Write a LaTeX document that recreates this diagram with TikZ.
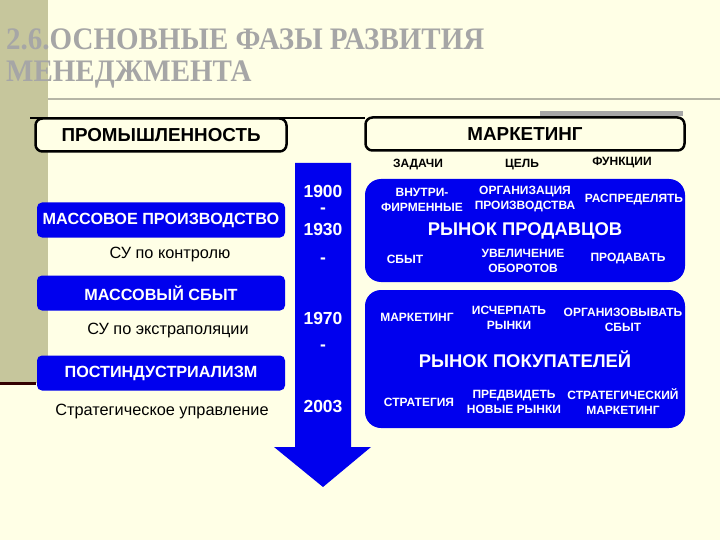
\documentclass[tikz,border=0pt]{standalone}
\usepackage{fontspec}
\setmainfont{Liberation Sans}
\newfontfamily\titlefont{Liberation Serif}
\usetikzlibrary{
    positioning,
    arrows.meta
}
\definecolor{cream}{HTML}{FFFFE6}
\definecolor{olive}{HTML}{C6C69C}
\definecolor{titlegrey}{HTML}{A6A6A6}
\definecolor{rulegrey}{HTML}{B6B6A6}
\definecolor{phaseblue}{HTML}{0000EE}
\tikzset{
    every node/.style={
        inner sep=0pt
    },
    heading/.style={
        draw=black,
        line width=2.5pt,
        rounded corners=7pt,
        fill=cream,
        minimum height=33pt,
        font=\bfseries\fontsize{18.8}{21}\selectfont
    },
    phase/.style={
        fill=phaseblue,
        rounded corners=5pt,
        minimum width=248pt,
        minimum height=35pt,
        text=white,
        font=\bfseries\fontsize{16.2}{18}\selectfont
    },
    method/.style={
        font=\fontsize{16.3}{18}\selectfont
    },
    year/.style={
        text=white,
        font=\bfseries\fontsize{17.5}{19}\selectfont
    },
    column/.style={
        font=\bfseries\fontsize{12}{14}\selectfont
    },
    market/.style={
        fill=phaseblue,
        rounded corners=16pt,
        minimum width=320pt
    },
    cell/.style={
        text=white,
        align=center,
        font=\bfseries\fontsize{12}{15}\selectfont
    },
    marketname/.style={
        text=white,
        font=\bfseries\fontsize{18.4}{20}\selectfont
    }
}

\begin{document}
\begin{tikzpicture}[
    x=1pt,
    y=-1pt
]

    % Fondo
    \useasboundingbox (0,0) rectangle (720,540);
    \fill[cream] (0,0) rectangle (720,540);
    \fill[olive] (0,0) rectangle (48,383);
    \fill[black!80!red] (0,382) rectangle (36,385);
    \draw[rulegrey, line width=2pt] (48,99) -- (720,99);

    % Titulo
    \node[anchor=base west, text=titlegrey, font=\titlefont\bfseries\fontsize{29}{32}\selectfont]
        (title1) at (6,50) {\scalebox{1}[1.08]{2.6.ОСНОВНЫЕ ФАЗЫ РАЗВИТИЯ}};
    \node[anchor=base west, text=titlegrey, font=\titlefont\bfseries\fontsize{29}{32}\selectfont]
        (title2) at (6,82) {\scalebox{1}[1.08]{МЕНЕДЖМЕНТА}};

    % Cabeceras
    \fill[titlegrey] (540,111) rectangle (683,116);
    \draw[line width=2pt] (30,118) -- (365,118);
    \node[heading, minimum width=251pt] (industry) at (161,135) {ПРОМЫШЛЕННОСТЬ};
    \node[heading, minimum width=319pt] (marketing) at (525,134) {МАРКЕТИНГ};

    % Fases
    \node[phase] (massprod)  at (161,220) {МАССОВОЕ ПРОИЗВОДСТВО};
    \node[method] (control)  at (170,255) {СУ по контролю};
    \node[phase] (masssale)  at (161,293) {МАССОВЫЙ СБЫТ};
    \node[method] (extrapol) at (168,330) {СУ по экстраполяции};
    \node[phase] (postind)   at (161,373) {ПОСТИНДУСТРИАЛИЗМ};
    \node[method] (strategic) at (162,411) {Стратегическое управление};

    % Flecha del tiempo
    \fill[phaseblue] (295,163) -- (351,163) -- (351,447) -- (371,447)
        -- (323,487) -- (274,447) -- (295,447) -- cycle;
    \node[year] (y1900) at (323,191) {1900};
    \node[year] (d1)    at (323,211) {-};
    \node[year] (y1930) at (323,229) {1930};
    \node[year] (d2)    at (323,261) {-};
    \node[year] (y1970) at (323,318) {1970};
    \node[year] (d3)    at (323,348) {-};
    \node[year] (y2003) at (323,406) {2003};

    % Columnas
    \node[column] (tasks)     at (418,165) {ЗАДАЧИ};
    \node[column] (goal)      at (522,165) {ЦЕЛЬ};
    \node[column] (functions) at (622,163) {ФУНКЦИИ};

    % Рынок продавцов
    \node[market, minimum height=103pt] (sellers) at (525,230.5) {};
    \node[cell] (inner)    at (422,199.5) {ВНУТРИ-\\ФИРМЕННЫЕ};
    \node[cell] (organize) at (525,199.5) {ОРГАНИЗАЦИЯ\\ПРОИЗВОДСТВА};
    \node[cell] (distrib)  at (634,200)   {РАСПРЕДЕЛЯТЬ};
    \node[marketname] (sellname) at (525,231) {РЫНОК ПРОДАВЦОВ};
    \node[cell] (sales)    at (405,259)   {СБЫТ};
    \node[cell] (turnover) at (523,260.5) {УВЕЛИЧЕНИЕ\\ОБОРОТОВ};
    \node[cell] (sell)     at (628,259)   {ПРОДАВАТЬ};

    % Рынок покупателей
    \node[market, minimum height=138pt] (buyers) at (525,359) {};
    \node[cell] (mkt)      at (417,317)   {МАРКЕТИНГ};
    \node[cell] (exhaust)  at (509,317.5) {ИСЧЕРПАТЬ\\РЫНКИ};
    \node[cell] (orgsale)  at (623,319.5) {ОРГАНИЗОВЫВАТЬ\\СБЫТ};
    \node[marketname] (buyname) at (525,359) {РЫНОК ПОКУПАТЕЛЕЙ};
    \node[cell] (strategy) at (419,402)   {СТРАТЕГИЯ};
    \node[cell] (foresee)  at (514,402)   {ПРЕДВИДЕТЬ\\НОВЫЕ РЫНКИ};
    \node[cell] (stratmkt) at (623,402)   {СТРАТЕГИЧЕСКИЙ\\МАРКЕТИНГ};

\end{tikzpicture}
\end{document}
